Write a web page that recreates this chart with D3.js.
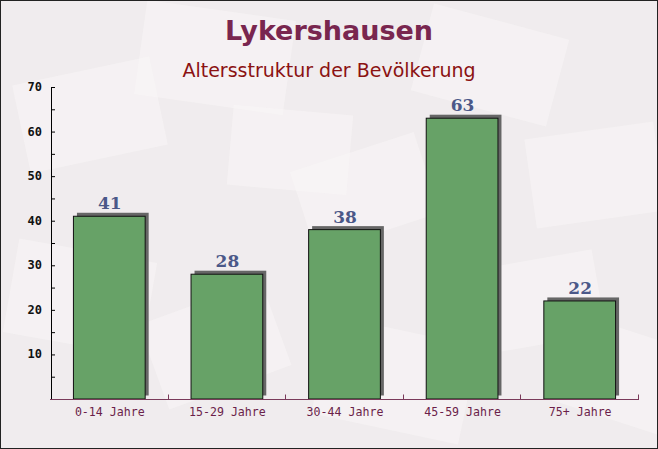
<!DOCTYPE html>
<html><head><meta charset="utf-8">
<script src="https://cdn.jsdelivr.net/npm/d3@7"></script>
<style>html,body{margin:0;padding:0;background:#fff}svg{display:block}</style>
</head><body>
<script>
const categories = ["0-14 Jahre", "15-29 Jahre", "30-44 Jahre", "45-59 Jahre", "75+ Jahre"];
const values = [41, 28, 38, 63, 22];
const yTicks = [10, 20, 30, 40, 50, 60, 70];
const titleText = "Lykershausen";
const subtitleText = "Altersstruktur der Bevölkerung";

const W = 658, H = 449;
const svg = d3.select("body").append("svg").attr("width", W).attr("height", H);

// background
svg.append("rect").attr("width", W).attr("height", H).attr("fill", "#f0ecee");
const bgShapes = [
  [20, 70, 140, 90, -12], [140, 10, 150, 95, 8], [300, 150, 130, 85, -18], [420, 20, 140, 90, 15],
  [530, 130, 130, 90, -8], [10, 250, 140, 95, 10], [150, 300, 130, 90, -20], [320, 330, 150, 100, 12],
  [470, 260, 130, 85, -10], [560, 330, 120, 90, 18], [230, 110, 120, 80, 5]
];
svg.append("g").selectAll("rect").data(bgShapes).join("rect")
  .attr("x", d => d[0]).attr("y", d => d[1]).attr("width", d => d[2]).attr("height", d => d[3])
  .attr("transform", d => `rotate(${d[4]},${d[0] + d[2] / 2},${d[1] + d[3] / 2})`)
  .attr("fill", "#faf8f8").attr("opacity", 0.45);

// titles
svg.append("text").attr("x", 329).attr("y", 40).attr("text-anchor", "middle")
  .attr("font-family", "DejaVu Sans").attr("font-weight", "bold").attr("font-size", 27)
  .attr("fill", "#79264f").text(titleText);
svg.append("text").attr("x", 329).attr("y", 77).attr("text-anchor", "middle")
  .attr("font-family", "DejaVu Sans").attr("font-size", 19)
  .attr("fill", "#8b1212").text(subtitleText);

const x = d3.scaleBand().domain(categories).range([50, 638]).paddingInner(0.39).paddingOuter(0.195);
const y = d3.scaleLinear().domain([0, 70]).range([399, 87]);

// bars: shadow then bar
const g = svg.append("g");
g.selectAll("rect.sh").data(values).join("rect").attr("class", "sh")
  .attr("x", (d, i) => x(categories[i]) + 4).attr("y", d => y(d) - 3.5)
  .attr("width", x.bandwidth()).attr("height", d => y(0) - y(d))
  .attr("fill", "#666");
g.selectAll("rect.bar").data(values).join("rect").attr("class", "bar")
  .attr("x", (d, i) => x(categories[i]) + 0.5).attr("y", d => y(d))
  .attr("width", x.bandwidth()).attr("height", d => y(0) - y(d))
  .attr("fill", "#67a267").attr("stroke", "#111").attr("stroke-width", 1);
g.selectAll("text.val").data(values).join("text").attr("class", "val")
  .attr("x", (d, i) => x(categories[i]) + x.bandwidth() / 2 + 1).attr("y", d => y(d) - 7)
  .attr("text-anchor", "middle").attr("font-family", "DejaVu Serif").attr("font-weight", "bold")
  .attr("font-size", 17).attr("fill", "#4b5888").text(d => d);

// y axis
const yAxis = d3.axisRight(y).tickValues(d3.range(5, 71, 5)).tickSize(4).tickFormat("");
const ya = svg.append("g").attr("transform", "translate(51,0)").call(yAxis);
ya.select(".domain").attr("stroke", "#000").attr("d", "M0.5,87V399.5");
ya.selectAll(".tick line").attr("stroke", "#000");
svg.append("g").selectAll("text").data(yTicks).join("text")
  .attr("x", 42).attr("y", d => y(d) + 4).attr("text-anchor", "end")
  .attr("font-family", "DejaVu Sans Mono").attr("font-weight", "bold").attr("font-size", 12)
  .attr("fill", "#111").text(d => d);

// x axis
const xa = svg.append("g").attr("transform", "translate(0,399.5)");
xa.append("line").attr("x1", 50).attr("x2", 639).attr("stroke", "#7a3a5a");
const edges = categories.map(c => x(c) - x.step() * x.paddingInner() / 2).slice(1).concat([638]);
xa.selectAll("line.t").data(edges).join("line").attr("class", "t")
  .attr("x1", d => Math.round(d) + 0.5).attr("x2", d => Math.round(d) + 0.5).attr("y1", 0).attr("y2", -5)
  .attr("stroke", "#7a3a5a");
xa.selectAll("text").data(categories).join("text")
  .attr("x", d => x(d) + x.bandwidth() / 2 + 1).attr("y", 16).attr("text-anchor", "middle")
  .attr("font-family", "DejaVu Sans Mono").attr("font-size", 11.6)
  .attr("fill", "#6b1f4a").text(d => d);

// border
svg.append("rect").attr("x", 0.5).attr("y", 0.5).attr("width", W - 1).attr("height", H - 1)
  .attr("fill", "none").attr("stroke", "#222");
</script>
</body></html>
